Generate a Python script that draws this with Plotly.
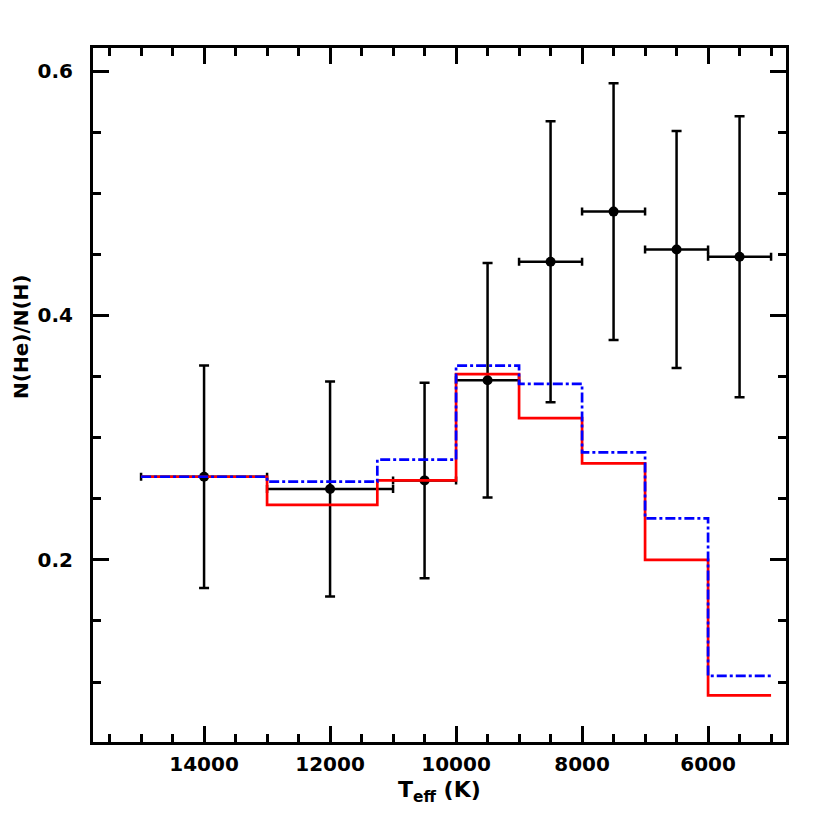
import plotly.graph_objects as go

# measured points (Teff bins)
teff = [14000, 12000, 10500, 9500, 8500, 7500, 6500, 5500]
teff_err = [1000, 1000, 500, 500, 500, 500, 500, 500]
nhe = [0.268, 0.258, 0.265, 0.347, 0.444, 0.485, 0.454, 0.448]
nhe_err = [0.091, 0.088, 0.080, 0.096, 0.115, 0.105, 0.097, 0.115]

# model histograms (bin edges + value per bin)
edges = [15000, 13000, 11250, 10000, 9000, 8000, 7000, 6000, 5000]
model_red = [0.268, 0.245, 0.265, 0.352, 0.316, 0.279, 0.200, 0.089]
model_blue = [0.268, 0.264, 0.282, 0.359, 0.344, 0.288, 0.234, 0.105]

# tick labels
x_ticks = [14000, 12000, 10000, 8000, 6000]
x_ticktext = ["14000", "12000", "10000", "8000", "6000"]
y_ticks = [0.2, 0.4, 0.6]
y_ticktext = ["0.2", "0.4", "0.6"]

FONT = "DejaVu Sans"

fig = go.Figure()

fig.add_trace(go.Scatter(
    x=teff, y=nhe, mode="markers",
    marker=dict(color="black", size=10),
    error_x=dict(type="data", array=teff_err, color="black", thickness=2.5, width=4),
    error_y=dict(type="data", array=nhe_err, color="black", thickness=2.5, width=5),
    showlegend=False,
))

fig.add_trace(go.Scatter(
    x=edges, y=model_red + model_red[-1:], mode="lines", line_shape="hv",
    line=dict(color="red", width=2.7), showlegend=False,
))
fig.add_trace(go.Scatter(
    x=edges, y=model_blue + model_blue[-1:], mode="lines", line_shape="hv",
    line=dict(color="blue", width=2.7, dash="10px,3px,3px,3px"), showlegend=False,
))

axis_common = dict(
    showline=True, linecolor="black", linewidth=3, mirror="allticks",
    ticks="inside", ticklen=16, tickwidth=2.5, tickcolor="black",
    showgrid=False, zeroline=False,
    tickfont=dict(family=FONT, size=20, color="black", weight="bold"),
    minor=dict(ticks="inside", ticklen=8, tickwidth=2.5, tickcolor="black", showgrid=False),
)

fig.update_xaxes(
    range=[15763, 4763], tickvals=x_ticks, ticktext=x_ticktext,
    minor_dtick=500, minor_tick0=0, ticklabelstandoff=2, **axis_common,
)
fig.update_yaxes(
    range=[0.0509, 0.6189], tickvals=y_ticks, ticktext=y_ticktext,
    minor_dtick=0.05, minor_tick0=0, ticklabelstandoff=13, **axis_common,
)

fig.add_annotation(
    text="<b>T<sub>eff</sub> (K)</b>", xref="paper", yref="paper",
    x=0.5, y=-0.048, xanchor="center", yanchor="top", showarrow=False,
    font=dict(family=FONT, size=22, color="black"),
)
fig.add_annotation(
    text="<b>N(He)/N(H)</b>", xref="paper", yref="paper",
    x=-0.105, y=0.584, xanchor="center", yanchor="middle", textangle=-90,
    showarrow=False, font=dict(family=FONT, size=20, color="black"),
)

fig.update_layout(
    width=830, height=830,
    margin=dict(l=85, r=52, t=40, b=96),
    paper_bgcolor="white", plot_bgcolor="white",
)

fig.write_html("out.html")
